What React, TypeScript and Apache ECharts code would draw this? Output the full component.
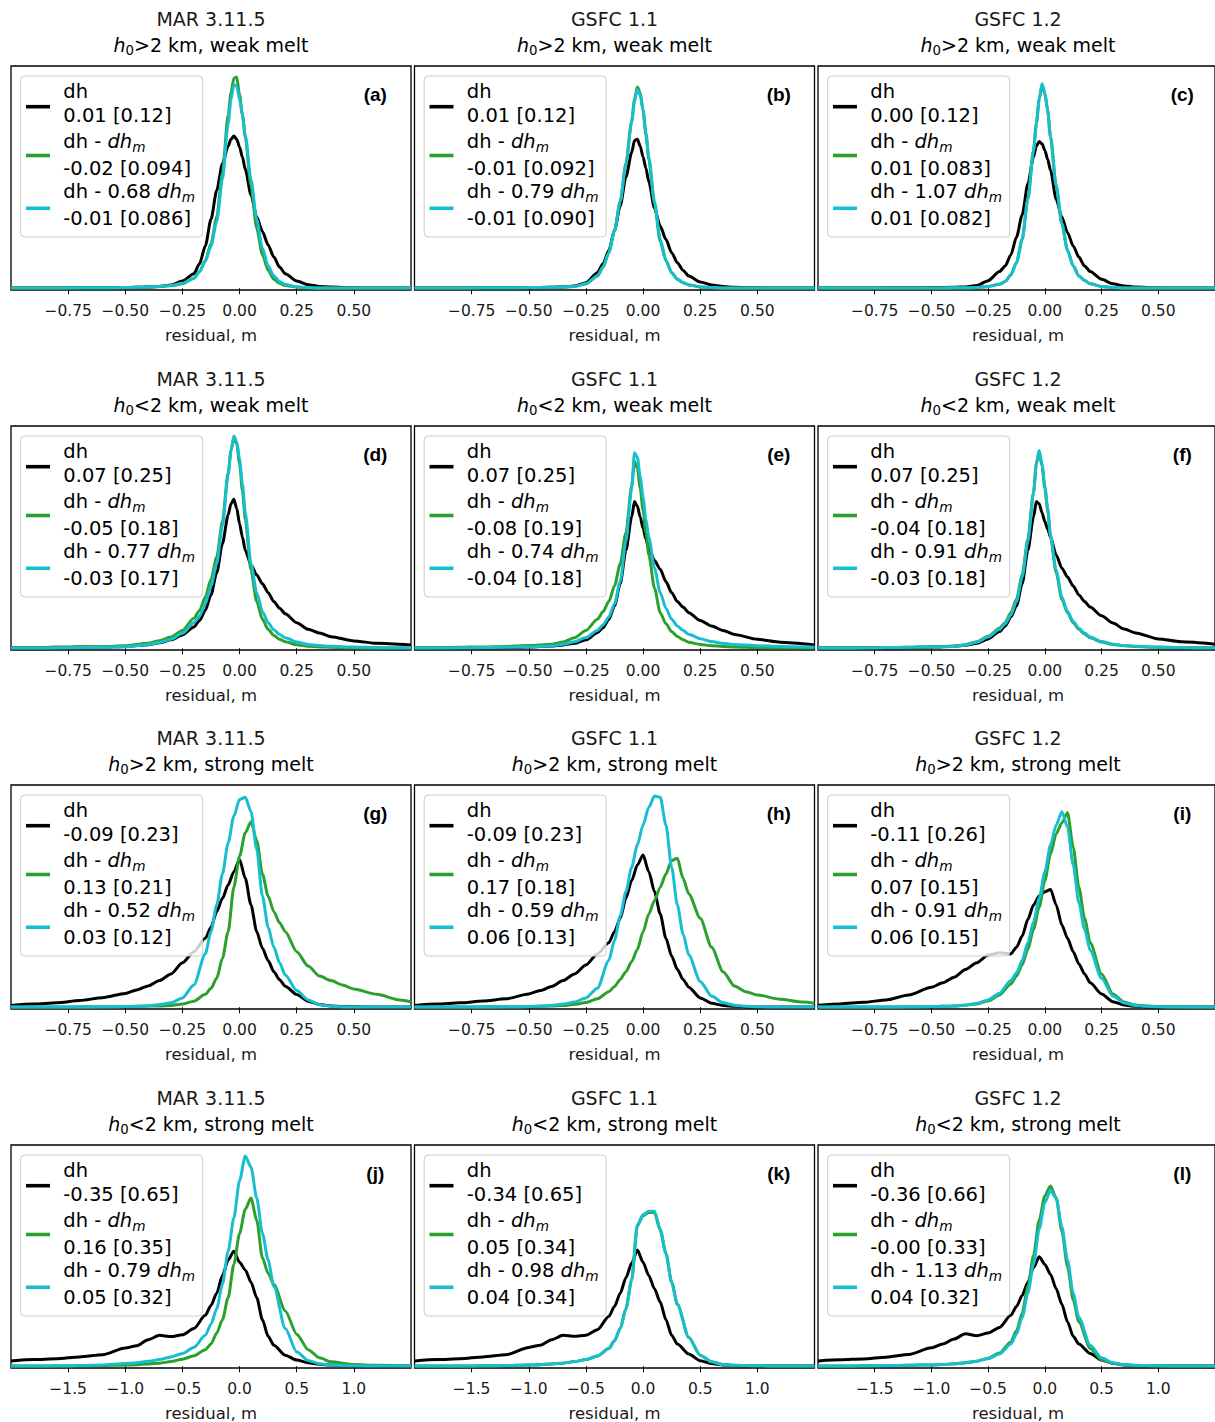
import React, { useEffect, useRef } from "react";
import * as echarts from "echarts";

// x sampling grids (residual, m)
const GRID_NARROW = [-1, -0.9, -0.8, -0.7, -0.6, -0.5, -0.4, -0.35, -0.3, -0.25, -0.2, -0.175, -0.15, -0.125, -0.1, -0.075, -0.05, -0.0375, -0.025, -0.0125, 0, 0.0125, 0.025, 0.05, 0.075, 0.1, 0.125, 0.15, 0.175, 0.2, 0.25, 0.3, 0.35, 0.4, 0.5, 0.6, 0.75];
const GRID_WIDE = [-1, -0.9, -0.8, -0.7, -0.6, -0.5, -0.45, -0.4, -0.35, -0.3, -0.25, -0.2, -0.15, -0.125, -0.1, -0.075, -0.05, -0.025, 0, 0.025, 0.05, 0.075, 0.1, 0.125, 0.15, 0.175, 0.2, 0.25, 0.3, 0.35, 0.4, 0.45, 0.5, 0.6, 0.7, 0.75];
const GRID_LONG = [-2, -1.8, -1.6, -1.4, -1.2, -1.0, -0.9, -0.8, -0.7, -0.6, -0.5, -0.4, -0.3, -0.25, -0.2, -0.15, -0.1, -0.05, 0, 0.05, 0.1, 0.15, 0.2, 0.25, 0.3, 0.4, 0.5, 0.6, 0.7, 0.8, 1.0, 1.2, 1.5];

// densities (relative, % of panel height)
const A_DH = [0.1, 0.1, 0.1, 0.2, 0.2, 0.3, 0.5, 0.8, 1.4, 3.2, 6.5, 11, 19, 31, 44, 56, 64, 67, 68.5, 67, 63.5, 59, 53.5, 42, 32, 25.5, 19.5, 14, 9.5, 6.5, 3.2, 1.6, 0.8, 0.5, 0.2, 0.1, 0.1];
const A_DHM = [0.1, 0.1, 0.1, 0.2, 0.2, 0.3, 0.5, 0.8, 1.2, 2, 4.5, 7.5, 12.5, 20, 32, 52, 78, 88, 94.5, 95, 87, 78, 68, 46, 27, 15, 8, 4, 2.2, 1.2, 0.5, 0.2, 0.1, 0.1, 0.1, 0.1, 0.1];
const A_FIT = [0.1, 0.1, 0.1, 0.2, 0.2, 0.3, 0.5, 0.8, 1.2, 2.2, 4.5, 7.5, 12, 19, 30, 49, 74, 85, 91.5, 91, 85, 78, 69, 49, 31, 18, 10, 5.5, 3, 1.7, 0.6, 0.3, 0.1, 0.1, 0.1, 0.1, 0.1];

const B_DH = [0.1, 0.1, 0.1, 0.2, 0.2, 0.3, 0.4, 0.6, 1.0, 2.5, 7, 11, 17, 26, 37, 50, 61, 66.5, 67, 64, 59, 54, 48, 36, 28, 22, 16, 11.5, 8, 5.5, 2.8, 1.5, 0.8, 0.4, 0.2, 0.1, 0.1];
const B_DHM = [0.1, 0.1, 0.1, 0.2, 0.2, 0.3, 0.4, 0.5, 0.8, 2, 5.5, 9.5, 16, 26, 39, 56, 75, 85, 90.5, 88, 80, 69, 58, 38, 21, 12.5, 7, 4, 2.5, 1.5, 0.6, 0.3, 0.1, 0.1, 0.1, 0.1, 0.1];
const B_FIT = [0.1, 0.1, 0.1, 0.2, 0.2, 0.3, 0.4, 0.5, 0.8, 2, 5.5, 9.5, 16, 26, 39, 56, 75, 84, 89.5, 87, 80, 70, 59, 39, 22, 12.5, 7, 4, 2.5, 1.5, 0.6, 0.3, 0.1, 0.1, 0.1, 0.1, 0.1];

const C_DH = [0.1, 0.1, 0.1, 0.2, 0.2, 0.3, 0.4, 0.6, 1.2, 3.4, 7.5, 10, 15, 23, 33, 47, 59, 64, 66, 65, 62, 58, 53, 40, 32, 25, 19, 14, 10, 7.5, 4, 2, 1, 0.5, 0.2, 0.1, 0.1];
const C_DHM = [0.1, 0.1, 0.1, 0.1, 0.1, 0.1, 0.2, 0.2, 0.3, 0.8, 1.8, 3, 6, 11.5, 22, 40, 62, 74, 85, 91.5, 87.5, 80, 68, 46, 29, 17, 10, 5.5, 3.5, 2, 0.8, 0.3, 0.1, 0.1, 0.1, 0.1, 0.1];
const C_FIT = [0.1, 0.1, 0.1, 0.1, 0.1, 0.1, 0.2, 0.2, 0.3, 0.8, 1.8, 3, 6, 11.5, 22, 40, 62, 74, 85, 92, 88, 80, 68, 46, 29, 17, 10, 5.5, 3.5, 2, 0.8, 0.3, 0.1, 0.1, 0.1, 0.1, 0.1];

const D_DH = [0.2, 0.3, 0.4, 0.5, 0.6, 0.8, 1.6, 2.5, 3.8, 6, 9.5, 12.5, 17, 24, 34, 47, 60, 65, 67, 63, 56, 50, 44, 37.5, 33, 29, 25, 21, 18, 15.5, 11.5, 8.5, 6.8, 5.2, 3.3, 2.2, 1.4];
const D_DHM = [0.2, 0.3, 0.4, 0.5, 0.7, 1.1, 2.2, 3.4, 5, 8, 13.5, 17, 23, 31, 41, 57, 79, 89, 94.5, 92, 83, 71, 58, 35, 21, 13, 8.5, 5.7, 4, 2.9, 1.6, 0.9, 0.6, 0.4, 0.2, 0.1, 0.1];
const D_FIT = [0.1, 0.1, 0.2, 0.3, 0.4, 0.7, 1.6, 2.6, 4, 6.7, 11.5, 14.5, 20, 28, 38, 55, 78, 89, 95.5, 93, 85, 74, 61, 38, 25, 16.5, 11.5, 8.3, 6.2, 4.7, 2.8, 1.7, 1.2, 0.9, 0.5, 0.3, 0.2];

const E_DH = [0.1, 0.1, 0.2, 0.2, 0.3, 0.5, 1.0, 1.5, 2.2, 3.8, 7, 9.2, 13, 19, 29, 44, 59, 66, 64, 59, 54, 49, 45, 39.5, 35.5, 30, 25, 21, 18.5, 16, 12.5, 10, 8, 6.2, 4, 2.7, 1.5];
const E_DHM = [0.2, 0.3, 0.4, 0.6, 0.8, 1.2, 1.8, 2.8, 4.7, 8, 13, 16.5, 21, 28, 38, 52, 73, 84, 81, 72, 62, 52, 42, 27, 16, 11, 7.5, 5.3, 3.8, 2.7, 1.7, 1.1, 0.8, 0.6, 0.3, 0.2, 0.1];
const E_FIT = [0.1, 0.1, 0.2, 0.3, 0.4, 0.6, 1.0, 1.8, 2.9, 4.8, 8, 10.5, 14, 20, 30, 48, 72, 88, 86, 77, 68, 58, 50, 36, 25, 18, 13, 10, 8, 6.3, 4.3, 3, 2.2, 1.7, 1.1, 0.8, 0.5];

const F_DH = [0.1, 0.1, 0.2, 0.2, 0.3, 0.5, 0.9, 1.3, 2.2, 4.2, 7.5, 10, 14, 19, 29, 44, 59, 66, 65, 61, 57, 53.5, 50, 42, 36, 32, 28, 24, 21, 18.5, 14.6, 11.3, 8.6, 6.9, 4.2, 2.9, 1.8];
const F_DHM = [0.1, 0.1, 0.2, 0.3, 0.4, 0.6, 0.9, 1.6, 2.9, 5.4, 9, 11.5, 16, 22, 33, 49, 70, 83, 88.5, 82, 72, 62, 50, 34, 22, 16, 11.5, 8.5, 6.4, 4.7, 2.8, 1.7, 1.1, 0.8, 0.4, 0.3, 0.2];
const F_FIT = [0.1, 0.1, 0.2, 0.3, 0.4, 0.6, 0.8, 1.5, 2.7, 5, 8.5, 11, 15, 21, 32, 48, 70, 83, 89, 83, 73, 63, 51, 35, 23, 16.5, 12, 9, 6.8, 5, 3, 1.8, 1.2, 0.9, 0.5, 0.3, 0.2];

const G_DH = [0.8, 1.4, 2, 3, 4.3, 6.2, 7.8, 9.6, 12, 15, 20, 25, 31, 36, 43, 49, 55, 61, 66.5, 58, 46, 34, 26.5, 21, 16, 12.4, 9.4, 5.7, 2.7, 1.2, 0.6, 0.3, 0.2, 0.1, 0.1, 0.1];
const G_DHM = [0.1, 0.1, 0.1, 0.2, 0.2, 0.3, 0.4, 0.5, 0.6, 0.8, 1.4, 2.7, 5.8, 8.5, 13, 22, 34, 54, 68, 78.5, 83.5, 75, 60, 50, 43, 38, 34, 25, 18.5, 14, 12, 10, 8.2, 5.8, 3.3, 2.5];
const G_FIT = [0.1, 0.1, 0.1, 0.1, 0.2, 0.3, 0.4, 0.6, 1.2, 2, 4.2, 10, 24, 34, 46, 60, 74, 86, 93.5, 94.5, 88, 71, 50, 36, 27, 20, 14.5, 7.5, 3.3, 1.1, 0.4, 0.2, 0.1, 0.1, 0.1, 0.1];

const H_DH = [0.8, 1.4, 2, 2.8, 3.8, 6, 7.5, 9.3, 12, 15, 19, 24, 29, 34, 40, 49, 57, 64, 68.5, 61, 52, 42, 31, 23, 17, 12.5, 9, 4.2, 1.8, 0.8, 0.4, 0.2, 0.1, 0.1, 0.1, 0.1];
const H_DHM = [0.1, 0.1, 0.1, 0.2, 0.2, 0.3, 0.4, 0.5, 0.8, 1.3, 2.1, 3.8, 7, 9.3, 12.5, 16, 20.5, 26, 34, 42, 48, 54, 60, 66, 67, 58, 51, 40, 27, 16, 9.5, 7, 5.5, 3.6, 2.3, 1.8];
const H_FIT = [0.1, 0.1, 0.1, 0.1, 0.2, 0.3, 0.5, 0.9, 1.4, 2.3, 4.2, 8.5, 21, 30, 41, 52, 63, 73, 82, 90, 95, 94.5, 82, 63, 46, 33, 23.5, 11.6, 5, 2, 0.9, 0.4, 0.2, 0.1, 0.1, 0.1];

const I_DH = [0.9, 1.5, 2.2, 3.3, 5.5, 9, 11, 13.5, 17, 20, 23.5, 24.5, 24, 27, 32, 39.5, 46, 50, 52, 53, 46, 37, 31, 25, 19.5, 15, 11, 6, 2.5, 1, 0.4, 0.2, 0.1, 0.1, 0.1, 0.1];
const I_DHM = [0.1, 0.1, 0.1, 0.1, 0.2, 0.3, 0.4, 0.5, 0.9, 1.5, 2.8, 5.5, 10.5, 14, 19, 26, 35, 45, 57, 69, 78, 83, 87.5, 72, 54, 40, 29, 15, 6, 2.3, 1, 0.5, 0.3, 0.2, 0.1, 0.1];
const I_FIT = [0.1, 0.1, 0.1, 0.1, 0.2, 0.3, 0.4, 0.5, 1, 1.8, 3.3, 6.3, 12, 15.5, 21, 29, 38.5, 49, 61, 73, 82, 88, 81, 64, 47, 35, 25.5, 13, 5, 1.9, 0.8, 0.4, 0.2, 0.1, 0.1, 0.1];

const J_DH = [2.4, 3, 3.4, 4.2, 5.2, 8.2, 9.3, 12, 14, 13.4, 14.2, 17, 23, 27.5, 33, 41, 48, 52, 47, 43.5, 38, 31, 21, 13.5, 9.5, 5, 2.8, 1.6, 0.9, 0.5, 0.2, 0.1, 0.1];
const J_DHM = [0.1, 0.1, 0.1, 0.2, 0.3, 0.5, 0.7, 1, 1.4, 2.1, 3.2, 4.7, 7.5, 10, 15, 21, 31, 46, 60, 71, 76, 66, 49, 42, 37, 25, 14.5, 7.5, 3.8, 2, 0.8, 0.4, 0.2];
const J_FIT = [0.1, 0.1, 0.2, 0.3, 0.6, 1.2, 1.6, 2.2, 3, 4.2, 5.8, 8.5, 14, 19, 26, 37, 52, 67, 84, 95, 90, 76, 60, 48, 36, 17, 6.5, 2.6, 1.1, 0.5, 0.2, 0.1, 0.1];

const K_DH = [2.4, 3, 3.4, 4.2, 5.2, 8.5, 9.5, 12, 14, 13.5, 14, 16.5, 22.5, 27, 33, 40, 46.5, 52.5, 47, 41, 35, 29, 21, 14, 10, 5.5, 2.5, 1.2, 0.6, 0.3, 0.1, 0.1, 0.1];
const K_DHM = [0.1, 0.1, 0.1, 0.2, 0.3, 0.5, 0.7, 1, 1.4, 2.1, 3, 4.6, 8, 11.5, 17, 26, 39, 63.5, 68, 69.5, 69.5, 61.5, 51, 38, 28, 13, 5, 2, 0.7, 0.4, 0.2, 0.1, 0.1];
const K_FIT = [0.1, 0.1, 0.1, 0.2, 0.3, 0.5, 0.7, 1, 1.4, 2.1, 3, 4.6, 8, 11.5, 17, 26, 39, 64, 68.5, 70, 70, 62, 51, 38, 28, 13, 5, 2, 0.7, 0.4, 0.2, 0.1, 0.1];

const L_DH = [2.4, 2.9, 3.3, 4.1, 5.3, 8.3, 10, 12.3, 14.7, 13.8, 15, 17.5, 23, 27, 32, 38, 44.5, 49.5, 46, 41.5, 35, 28, 20, 13.5, 10, 5.7, 2.8, 1.3, 0.6, 0.3, 0.1, 0.1, 0.1];
const L_DHM = [0.1, 0.1, 0.2, 0.3, 0.4, 0.6, 0.8, 1.1, 1.6, 2.3, 3.6, 6, 11, 16, 24, 36, 50, 66, 77, 81.5, 76, 61, 45, 30, 20, 8, 3, 1.3, 0.5, 0.3, 0.1, 0.1, 0.1];
const L_FIT = [0.1, 0.1, 0.2, 0.3, 0.4, 0.6, 0.8, 1.1, 1.6, 2.3, 3.4, 5.5, 10, 14.5, 22, 33, 46, 62, 74, 79.5, 76, 63, 48, 33, 22, 9.5, 3.8, 1.6, 0.7, 0.4, 0.2, 0.1, 0.1];

// text content
const MODELS = ["MAR 3.11.5", "GSFC 1.1", "GSFC 1.2"];
const ROW_SIGNS = [">", "<", ">", "<"];
const ROW_MELT = ["weak melt", "weak melt", "strong melt", "strong melt"];
const LETTERS = ["a", "b", "c", "d", "e", "f", "g", "h", "i", "j", "k", "l"];
const STATS_DH = ["0.01 [0.12]", "0.01 [0.12]", "0.00 [0.12]", "0.07 [0.25]", "0.07 [0.25]", "0.07 [0.25]", "-0.09 [0.23]", "-0.09 [0.23]", "-0.11 [0.26]", "-0.35 [0.65]", "-0.34 [0.65]", "-0.36 [0.66]"];
const STATS_DHM = ["-0.02 [0.094]", "-0.01 [0.092]", "0.01 [0.083]", "-0.05 [0.18]", "-0.08 [0.19]", "-0.04 [0.18]", "0.13 [0.21]", "0.17 [0.18]", "0.07 [0.15]", "0.16 [0.35]", "0.05 [0.34]", "-0.00 [0.33]"];
const SCALES = ["0.68", "0.79", "1.07", "0.77", "0.74", "0.91", "0.52", "0.59", "0.91", "0.79", "0.98", "1.13"];
const STATS_FIT = ["-0.01 [0.086]", "-0.01 [0.090]", "0.01 [0.082]", "-0.03 [0.17]", "-0.04 [0.18]", "-0.03 [0.18]", "0.03 [0.12]", "0.06 [0.13]", "0.06 [0.15]", "0.05 [0.32]", "0.04 [0.34]", "0.04 [0.32]"];
const TICKS_SHORT = [-0.75, -0.5, -0.25, 0, 0.25, 0.5];
const TICKS_LONG = [-1.5, -1.0, -0.5, 0, 0.5, 1.0];

const PANEL_SERIES = [
  [A_DH, A_DHM, A_FIT], [B_DH, B_DHM, B_FIT], [C_DH, C_DHM, C_FIT],
  [D_DH, D_DHM, D_FIT], [E_DH, E_DHM, E_FIT], [F_DH, F_DHM, F_FIT],
  [G_DH, G_DHM, G_FIT], [H_DH, H_DHM, H_FIT], [I_DH, I_DHM, I_FIT],
  [J_DH, J_DHM, J_FIT], [K_DH, K_DHM, K_FIT], [L_DH, L_DHM, L_FIT],
];
const ROW_GRIDS = [GRID_NARROW, GRID_NARROW, GRID_WIDE, GRID_LONG];

const COLORS = ["#000000", "#2ca02c", "#17becf"];
const FONT = '"DejaVu Sans", sans-serif';

// layout
const COL_LEFT = [11, 414.5, 818];
const ROW_TOP = [66, 426, 785, 1145];
const PANEL_W = 400;
const PANEL_H = 224;

function richText(x: number, y: number, text: string, size: number, align = "left") {
  return {
    type: "text",
    x,
    y,
    z: 100,
    style: {
      text,
      fontSize: size,
      fontFamily: FONT,
      fill: "#000",
      align,
      textAlign: align,
      verticalAlign: "middle",
      textVerticalAlign: "middle",
      rich: {
        n: { fontSize: size, fontFamily: FONT, fill: "#000", color: "#000", lineHeight: 24 },
        i: { fontSize: size, fontFamily: FONT, fontStyle: "italic", fill: "#000", color: "#000", lineHeight: 24 },
        s: { fontSize: size * 0.7, fontFamily: FONT, fontStyle: "italic", fill: "#000", color: "#000", lineHeight: 13, verticalAlign: "bottom" },
        r: { fontSize: size * 0.7, fontFamily: FONT, fill: "#000", color: "#000", lineHeight: 13, verticalAlign: "bottom" },
      },
    },
  };
}

function fmt(v: number, d: number) {
  const s = Math.abs(v).toFixed(d);
  return v < 0 ? "\u2212" + s : s;
}

export default function App() {
  const ref = useRef<HTMLDivElement>(null);

  useEffect(() => {
    document.body.style.margin = "0";
    if (!ref.current) return;
    const chart = echarts.init(ref.current, undefined, { renderer: "svg" });

    const grids: any[] = [];
    const xAxes: any[] = [];
    const yAxes: any[] = [];
    const series: any[] = [];
    const graphics: any[] = [];

    for (let p = 0; p < 12; p++) {
      const r = Math.floor(p / 3);
      const c = p % 3;
      const left = COL_LEFT[c];
      const top = ROW_TOP[r];
      const h = r === 3 ? PANEL_H - 1 : PANEL_H;
      const long = r === 3;
      const xs = ROW_GRIDS[r];

      grids.push({
        left,
        top,
        width: PANEL_W,
        height: h,
        show: true,
        borderColor: "#000",
        borderWidth: 1.3,
        backgroundColor: "#fff",
        containLabel: false,
      });
      xAxes.push({
        type: "value",
        gridIndex: p,
        min: long ? -2 : -1,
        max: long ? 1.5 : 0.75,
        axisLine: { show: false },
        splitLine: { show: false },
        axisTick: {
          show: true,
          length: 6,
          inside: false,
          customValues: long ? TICKS_LONG : TICKS_SHORT,
          lineStyle: { color: "#000", width: 1 },
        },
        axisLabel: {
          show: true,
          customValues: long ? TICKS_LONG : TICKS_SHORT,
          formatter: (v: number) => fmt(v, long ? 1 : 2),
          fontSize: 15.5,
          fontFamily: FONT,
          color: "#1a1a1a",
          margin: 13,
          hideOverlap: false,
        },
      });
      yAxes.push({
        type: "value",
        gridIndex: p,
        min: -0.8,
        max: 100,
        show: false,
        splitLine: { show: false },
      });

      PANEL_SERIES[p].forEach((ys, k) => {
        series.push({
          type: "line",
          xAxisIndex: p,
          yAxisIndex: p,
          data: xs.map((x, i) => [x, ys[i]]),
          showSymbol: false,
          symbol: "none",
          smooth: 0.25,
          smoothMonotone: "x",
          z: 2 + k,
          lineStyle: { color: COLORS[k], width: 3 },
          itemStyle: { color: COLORS[k] },
          emphasis: { disabled: true },
        });
      });

      // titles
      const cx = left + PANEL_W / 2;
      graphics.push({
        type: "text",
        x: cx,
        y: top - 47,
        z: 100,
        style: { text: MODELS[c], fontSize: 19, fontFamily: FONT, fill: "#1a1a1a", align: "center", textAlign: "center", verticalAlign: "middle", textVerticalAlign: "middle" },
      });
      graphics.push(richText(cx, top - 21, `{i|h}{r|0}{n|${ROW_SIGNS[r]}2 km, ${ROW_MELT[r]}}`, 19, "center"));
      // x label
      graphics.push({
        type: "text",
        x: cx,
        y: top + h + 45,
        z: 100,
        style: { text: "residual, m", fontSize: 16.5, fontFamily: FONT, fill: "#1a1a1a", align: "center", textAlign: "center", verticalAlign: "middle", textVerticalAlign: "middle" },
      });
      // panel letter
      graphics.push({
        type: "text",
        x: left + PANEL_W - 35.7,
        y: top + 28,
        z: 100,
        style: { text: `(${LETTERS[p]})`, fontSize: 19, fontWeight: "bold", fontFamily: '"Liberation Sans", Arial, sans-serif', fill: "#000", align: "center", textAlign: "center", verticalAlign: "middle", textVerticalAlign: "middle" },
      });
      // legend
      const lx = left + 9.7;
      const ly = top + 10;
      graphics.push({
        type: "rect",
        z: 99,
        shape: { x: lx, y: ly, width: 182, height: 161, r: 4 },
        style: { fill: "rgba(255,255,255,0.8)", stroke: "#cccccc", lineWidth: 1 },
      });
      const L1 = [15.7, 65.7, 115.7];
      const L2 = [39.7, 92, 142.3];
      const HY = [30.7, 79.5, 132.3];
      const lines1 = ["{n|dh}", "{n|dh - }{i|dh}{s|m}", `{n|dh - ${SCALES[p]} }{i|dh}{s|m}`];
      const lines2 = [STATS_DH[p], STATS_DHM[p], STATS_FIT[p]];
      for (let k = 0; k < 3; k++) {
        graphics.push({
          type: "line",
          z: 100,
          shape: { x1: lx + 5.3, y1: ly + HY[k], x2: lx + 29.3, y2: ly + HY[k] },
          style: { stroke: COLORS[k], lineWidth: 3.6 },
        });
        graphics.push(richText(lx + 42.6, ly + L1[k], lines1[k], 19.5));
        graphics.push(richText(lx + 42.6, ly + L2[k], `{n|${lines2[k]}}`, 19.5));
      }
    }

    chart.setOption({
      animation: false,
      backgroundColor: "#fff",
      grid: grids,
      xAxis: xAxes,
      yAxis: yAxes,
      series,
      graphic: { elements: graphics },
    });

    return () => chart.dispose();
  }, []);

  return <div ref={ref} style={{ width: 1215, height: 1422, position: "absolute", left: 0, top: 0 }} />;
}
